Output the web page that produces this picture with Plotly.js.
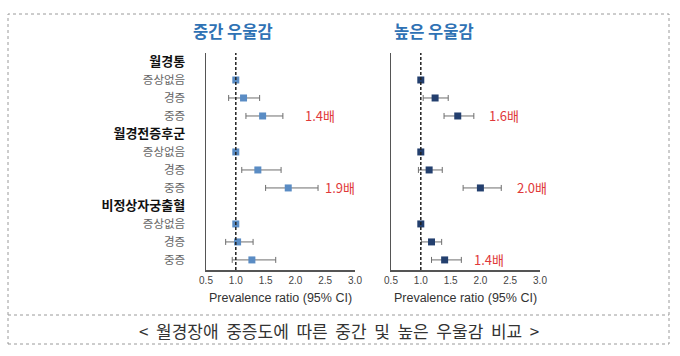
<!DOCTYPE html>
<html><head><meta charset="utf-8">
<script src="https://cdn.plot.ly/plotly-3.0.1.min.js"></script>
<style>html,body{margin:0;padding:0;background:#fff}</style>
</head><body><div id="chart" style="width:680px;height:356px"></div>
<script>
// ---- data ----
const panelTitles = ['중간 우울감', '높은 우울감'];
const rowLabels = ['월경통','증상없음','경증','중증','월경전증후군','증상없음','경증','중증','비정상자궁출혈','증상없음','경증','중증'];
const isHeader = [true,false,false,false,true,false,false,false,true,false,false,false];
const modPR = [null,1.00,1.13,1.45,null,1.00,1.37,1.88,null,1.00,1.03,1.27];
const modLo = [null,null,0.88,1.17,null,null,1.10,1.50,null,null,0.83,0.94];
const modHi = [null,null,1.40,1.79,null,null,1.76,2.38,null,null,1.29,1.67];
const highPR = [null,1.00,1.24,1.62,null,1.00,1.14,2.00,null,1.00,1.18,1.40];
const highLo = [null,null,1.04,1.39,null,null,0.96,1.71,null,null,1.01,1.18];
const highHi = [null,null,1.46,1.89,null,null,1.36,2.35,null,null,1.35,1.68];
const modLabels = [null,null,null,'1.4배',null,null,null,'1.9배',null,null,null,null];
const highLabels = [null,null,null,'1.6배',null,null,null,'2.0배',null,null,null,'1.4배'];
const xTicks = [0.5,1.0,1.5,2.0,2.5,3.0];
const refValue = 1;
const xTitle = 'Prevalence ratio (95% CI)';
const caption = '< 월경장애 중증도에 따른 중간 및 높은 우울감 비교 >';

// ---- styles ----
const W = 680, H = 356;
const KR = '"Noto Sans CJK KR", "Noto Sans", sans-serif';
const AR = '"Liberation Sans", Arial, sans-serif';
const modShift = [0,0,0,20,0,0,0,5,0,0,0,0];
const highShift = [0,0,0,13,0,0,0,14,0,0,0,11];
const px = v => v / W, py = v => 1 - v / H;

const rowIdx = rowLabels.map((_, i) => i);
const tickText = rowLabels.map((t, i) => isHeader[i]
  ? '<span style="color:#111;font-size:13px"><b>' + t + '</b></span>' : t);

function errs(pr, lo, hi) {
  return {
    plus: pr.map((v, i) => (hi[i] == null ? null : hi[i] - v)),
    minus: pr.map((v, i) => (lo[i] == null ? null : v - lo[i]))
  };
}
function trace(pr, lo, hi, xa, ya, color) {
  const e = errs(pr, lo, hi);
  return {
    type: 'scatter', mode: 'markers', x: pr, y: rowIdx, xaxis: xa, yaxis: ya,
    marker: {symbol: 'square', size: 7, color: color},
    error_x: {type: 'data', symmetric: false, array: e.plus, arrayminus: e.minus,
      color: '#6e6e6e', thickness: 1, width: 3},
    hoverinfo: 'skip', showlegend: false, cliponaxis: false
  };
}
const data = [
  trace(modPR, modLo, modHi, 'x', 'y', '#5a8cc4'),
  trace(highPR, highLo, highHi, 'x2', 'y2', '#233f6e')
];

const yRange = [11.56, -0.5];
const yDom = [86 / H, 303 / H];
const xaxisBase = {
  range: [0.5, 3.0001], tickvals: xTicks, ticktext: xTicks.map(v => v.toFixed(1)),
  showgrid: false, zeroline: false, showline: true, linecolor: '#555', linewidth: 1.5,
  ticks: '', tickfont: {family: AR, size: 10, color: '#444'},
  title: {text: xTitle, font: {family: AR, size: 12.5, color: '#333'}, standoff: 8}
};
const layout = {
  width: W, height: H, margin: {l: 0, r: 0, t: 0, b: 0},
  paper_bgcolor: '#fff', plot_bgcolor: 'rgba(0,0,0,0)',
  xaxis: Object.assign({}, xaxisBase, {domain: [px(206), px(355)], anchor: 'y'}),
  xaxis2: Object.assign({}, xaxisBase, {domain: [px(391), px(540)], anchor: 'y2'}),
  yaxis: {domain: yDom, range: yRange, anchor: 'x', tickvals: rowIdx, ticktext: tickText,
    showgrid: false, zeroline: false, showline: true, linecolor: '#555', linewidth: 1.5,
    ticks: 'outside', ticklen: 17, tickcolor: 'rgba(0,0,0,0)',
    tickfont: {family: KR, size: 11.5, color: '#666'}},
  yaxis2: {domain: yDom, range: yRange, anchor: 'x2', showticklabels: false,
    showgrid: false, zeroline: false, showline: true, linecolor: '#555', linewidth: 1.5, ticks: ''},
  shapes: [
    {type: 'line', xref: 'x', yref: 'y domain', x0: refValue, x1: refValue, y0: 0, y1: 1,
      line: {color: '#222', width: 1.5, dash: '3px,2px'}},
    {type: 'line', xref: 'x2', yref: 'y2 domain', x0: refValue, x1: refValue, y0: 0, y1: 1,
      line: {color: '#222', width: 1.5, dash: '3px,2px'}},
    {type: 'rect', xref: 'paper', yref: 'paper', x0: px(8), x1: px(669), y0: py(344), y1: py(14),
      line: {color: '#9a9a9a', width: 1, dash: 'dot'}},
    {type: 'line', xref: 'paper', yref: 'paper', x0: px(8), x1: px(669), y0: py(315), y1: py(315),
      line: {color: '#9a9a9a', width: 1, dash: 'dot'}}
  ],
  annotations: []
};
[[modLabels, modHi, modShift, 'x', 'y'], [highLabels, highHi, highShift, 'x2', 'y2']].forEach(([labs, hi, sh, xa, ya]) => {
  labs.forEach((t, i) => {
    if (!t) return;
    layout.annotations.push({text: t, x: hi[i], y: rowIdx[i], xref: xa, yref: ya,
      xanchor: 'left', yanchor: 'middle', xshift: sh[i], showarrow: false,
      font: {family: KR, size: 13, color: '#e0383a'}});
  });
});
[[panelTitles[0], 233], [panelTitles[1], 434]].forEach(([t, cx]) => {
  layout.annotations.push({text: '<b>' + t + '</b>', x: px(cx), y: py(31), xref: 'paper', yref: 'paper',
    xanchor: 'center', yanchor: 'middle', showarrow: false,
    font: {family: KR, size: 16.5, color: '#2f72b4'}});
});
layout.annotations.push({text: caption.replace(/ /g, '\u00a0\u00a0'), x: px(339), y: py(330), xref: 'paper', yref: 'paper',
  xanchor: 'center', yanchor: 'middle', showarrow: false,
  font: {family: KR, size: 17, color: '#333'}});

Plotly.newPlot('chart', data, layout, {staticPlot: true, displayModeBar: false});
</script></body></html>
